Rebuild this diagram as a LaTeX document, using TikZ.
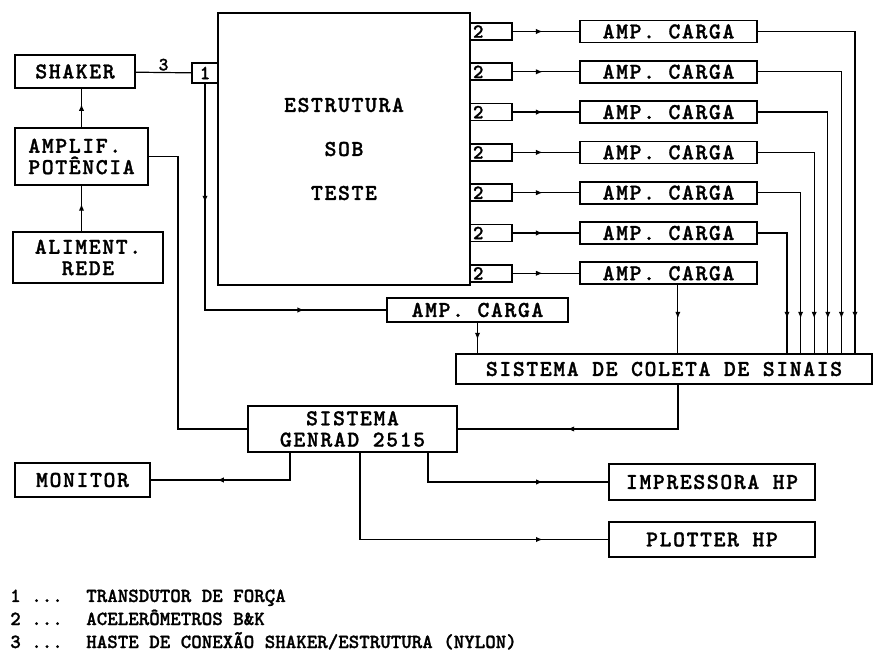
\documentclass[tikz,border=0pt]{standalone}
\usepackage{fontspec}
\usepackage{tikz}
\usetikzlibrary{arrows.meta, positioning, decorations.markings}
\newfontfamily\boxfont{lmmonolt10-bold.otf}[LetterSpace=7, FakeBold=1.2]
\newfontfamily\legfont{lmmonolt10-bold.otf}[FakeBold=1.2]

\begin{document}
\begin{tikzpicture}[
  x=0.75pt, y=-0.75pt,
  box/.style={draw, line width=1.3pt, inner sep=0pt, align=center,
              font=\boxfont\fontsize{17pt}{16pt}\selectfont},
  tag/.style={draw, line width=1.2pt, inner sep=1pt,
              font=\boxfont\fontsize{15pt}{15pt}\selectfont},
  conn/.style={line width=0.9pt},
  midarr/.style={postaction={decorate, decoration={markings,
      mark=at position #1 with {\arrow{Latex[length=5pt, width=4pt]}}}}},
  legend/.style={anchor=base west, inner sep=0pt,
                 font=\legfont\fontsize{15pt}{15pt}\selectfont}
]
  \useasboundingbox (0,0) rectangle (876,652);

  % Excitation chain (left column)
  \node[box, minimum width=90pt, minimum height=24.75pt] (shaker) at (75,71.5) {SHAKER};
  \node[box, minimum width=99.75pt, minimum height=42.75pt, align=left] (amplif) at (81.5,156.5)
       {AMPLIF.\\POTÊNCIA};
  \node[box, minimum width=112.5pt, minimum height=38.25pt] (aliment) at (88,257.5)
       {ALIMENT.\\REDE};

  % Structure with force transducer
  \node[box, line width=1.1pt, minimum width=189pt, minimum height=204pt] (struct) at (344,149)
       {ESTRUTURA\\[17pt]SOB\\[17pt]TESTE};
  \node[tag, minimum width=19.5pt, minimum height=15pt] (s1) at (205,73) {1};

  % Acquisition
  \node[box, minimum width=312pt, minimum height=22.5pt] (coleta) at (664,369)
       {SISTEMA DE COLETA DE SINAIS};
  \node[box, minimum width=135.75pt, minimum height=18pt] (lamp) at (477.5,310) {AMP. CARGA};
  \node[box, minimum width=156.75pt, minimum height=34.5pt] (genrad) at (352.5,429)
       {SISTEMA\\GENRAD 2515};

  % Peripherals
  \node[box, minimum width=101.25pt, minimum height=25.5pt] (monitor) at (82.5,480) {MONITOR};
  \node[box, minimum width=154.5pt, minimum height=27pt] (impr) at (712,482) {IMPRESSORA HP};
  \node[box, minimum width=154.5pt, minimum height=26.25pt] (plotter) at (712,539.5) {PLOTTER HP};

  % Accelerometers and charge amplifiers
  \foreach \i in {1,...,7}{
    \pgfmathsetmacro{\yy}{31.5+40.3*(\i-1)}
    \node[tag, minimum width=31.5pt, minimum height=12.75pt, text width=27pt,
          inner xsep=2pt, align=left] (acc\i) at (491,\yy) {2};
    \node[box, minimum width=132.75pt, minimum height=16.5pt] (amp\i) at (668.5,\yy) {AMP. CARGA};
    \draw[conn, midarr=0.45] (acc\i) -- (amp\i);
  }
  \foreach \i in {1,...,6}{
    \pgfmathsetmacro{\xx}{855-13.6*(\i-1)}
    \coordinate (drop\i) at (\xx,0);
    \draw[conn, midarr=-26pt] (amp\i.east) -| (drop\i |- coleta.north);
  }
  \draw[conn, midarr=-26pt] ([xshift=7pt]amp7.south) -- ([xshift=7pt]amp7.south |- coleta.north);

  % Connections
  \draw[conn] (shaker) -- node[above, inner sep=1pt, font=\boxfont\fontsize{14pt}{14pt}\selectfont] (haste) {3} (s1);
  \draw[conn, midarr=0.6] (amplif.north) -- (amplif.north |- shaker.south);
  \draw[conn, midarr=0.6] (amplif.south |- aliment.north) -- (amplif.south);
  \draw[conn, midarr=89pt, midarr=244pt] (s1.south) |- (lamp.west);
  \draw[conn, midarr=0.55] (lamp.south) -- (lamp.south |- coleta.north);
  \draw[conn, midarr=116pt] ([xshift=10.5pt]coleta.south) |- (genrad.east);
  \coordinate (gbend) at (178,0);
  \draw[conn] (genrad.west) -- (genrad.west -| gbend) |- (amplif.east);
  \draw[conn, midarr=75pt] ([xshift=-46.9pt]genrad.south) |- (monitor.east);
  \draw[conn, midarr=108pt] ([xshift=56.6pt]genrad.south) |- (impr.west);
  \draw[conn, midarr=202pt] ([xshift=5.6pt]genrad.south) |- (plotter.west);

  % Key
  \foreach \keyno/\txt [count=\k] in {1/{TRANSDUTOR DE FORÇA}, 2/{ACELERÔMETROS B\&K},
                                      3/{HASTE DE CONEXÃO SHAKER/ESTRUTURA (NYLON)}}{
    \pgfmathsetmacro{\ly}{602+23*(\k-1)}
    \node[legend] (keyno\k) at (10,\ly) {\keyno\ ...};
    \node[legend] (keytxt\k) at (86,\ly) {\txt};
  }
\end{tikzpicture}
\end{document}
